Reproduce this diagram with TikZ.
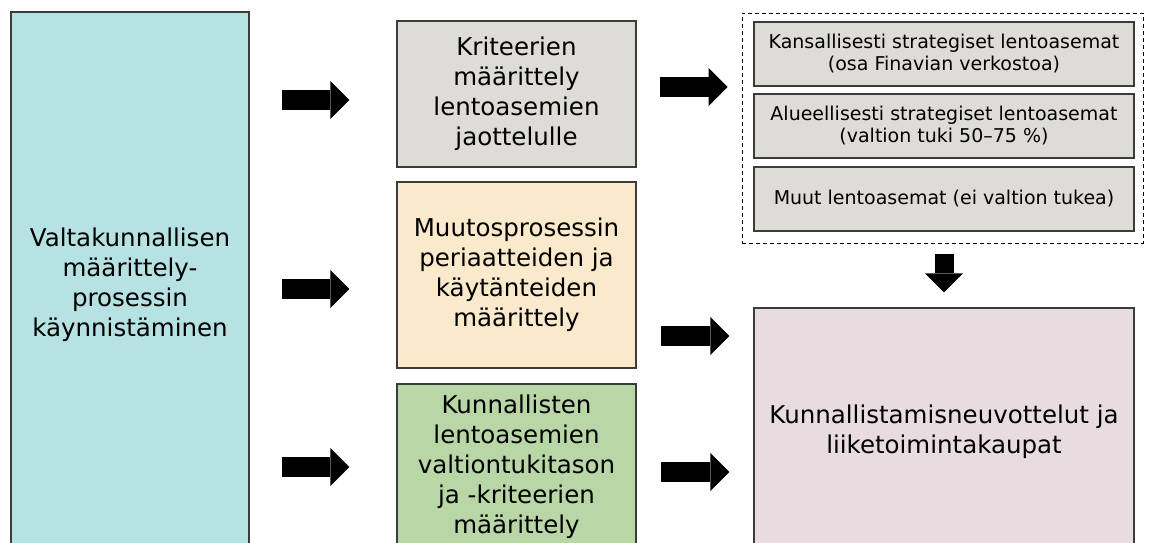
\documentclass[tikz,border=0pt]{standalone}
\usepackage{fontspec}
\setmainfont{DejaVu Sans}
\usetikzlibrary{arrows.meta}
\definecolor{azzurro}{HTML}{B7E2E3}
\definecolor{grigio}{HTML}{DEDCD6}
\definecolor{crema}{HTML}{FAE9CA}
\definecolor{verde}{HTML}{B9D6A7}
\definecolor{rosa}{HTML}{E8DCE0}
\definecolor{bordo}{HTML}{3C3C3C}
\tikzset{
  box/.style={draw=bordo, line width=1.2pt, align=center, inner sep=0pt, font=\fontsize{24.5}{30}\selectfont},
  boxp/.style={box, font=\fontsize{19}{22}\selectfont},
  freccia/.style={line width=20pt, -{Triangle[length=19pt,width=38pt,line width=0pt]}},
}
\begin{document}
\begin{tikzpicture}[x=1pt,y=-1pt]
        \useasboundingbox (0,0) rectangle (1149,542);
        %riquadro di sinistra
        \node[box, fill=azzurro, minimum width=238pt, minimum height=546pt] (valt) at (130,285) {Valtakunnallisen\\määrittely-\\prosessin\\käynnistäminen};
        %riquadri centrali
        \node[box, fill=grigio, minimum width=239pt, minimum height=146pt] (krit) at (516.5,94) {Kriteerien\\määrittely\\lentoasemien\\jaottelulle};
        \node[box, fill=crema, minimum width=239pt, minimum height=186pt] (muut) at (516.5,275) {Muutosprosessin\\periaatteiden ja\\käytänteiden\\määrittely};
        \node[box, fill=verde, minimum width=239pt, minimum height=166pt] (kunn) at (516.5,467) {Kunnallisten\\lentoasemien\\valtiontukitason\\ja -kriteerien\\määrittely};
        %gruppo tratteggiato
        \node[draw, dash pattern=on 4pt off 3pt, line width=1pt, minimum width=401pt, minimum height=230pt] (ryhma) at (942.5,128) {};
        \node[boxp, fill=grigio, minimum width=380pt, minimum height=64pt] (kans) at (944,54) {Kansallisesti strategiset lentoasemat\\(osa Finavian verkostoa)};
        \node[boxp, fill=grigio, minimum width=380pt, minimum height=64pt] (alue) at (944,126) {Alueellisesti strategiset lentoasemat\\(valtion tuki 50–75 \%)};
        \node[boxp, fill=grigio, minimum width=380pt, minimum height=64pt] (muu) at (944,199) {Muut lentoasemat (ei valtion tukea)};
        %riquadro finale
        \node[box, fill=rosa, minimum width=380pt, minimum height=248pt] (neuv) at (944,432) {Kunnallistamisneuvottelut ja\\liiketoimintakaupat};
        %frecce
        \draw[freccia, shorten <=32pt, shorten >=47pt] ([yshift=-6pt]krit.west -| valt.east) -- ([yshift=-6pt]krit.west);
        \draw[freccia, shorten <=32pt, shorten >=47pt] ([yshift=-14pt]muut.west -| valt.east) -- ([yshift=-14pt]muut.west);
        \draw[freccia, shorten <=32pt, shorten >=47pt] (kunn.west -| valt.east) -- (kunn.west);
        \draw[freccia, shorten <=23pt, shorten >=14pt] ([yshift=7pt]krit.east) -- ([yshift=7pt]krit.east -| ryhma.west);
        \draw[freccia, shorten <=24pt, shorten >=24pt] ([yshift=-61pt]muut.east) -- ([yshift=-61pt]muut.east -| neuv.west);
        \draw[freccia, shorten <=24pt, shorten >=24pt] ([yshift=-5pt]kunn.east) -- ([yshift=-5pt]kunn.east -| neuv.west);
        \draw[freccia, line width=19pt, shorten <=10pt, shorten >=15pt] (neuv.north |- ryhma.south) -- (neuv.north);
\end{tikzpicture}
\end{document}
